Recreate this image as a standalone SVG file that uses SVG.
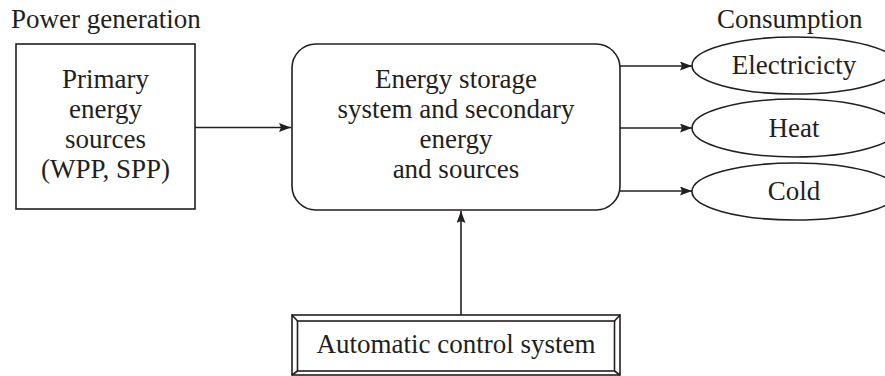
<svg xmlns="http://www.w3.org/2000/svg" width="885" height="376" viewBox="0 0 885 376">
<style>
text{font-family:"Liberation Serif","Times New Roman",serif;font-size:27px;fill:#231f20;text-anchor:middle}
.lbl{text-anchor:start}
.shape{fill:none;stroke:#231f20;stroke-width:1.6}
.con{fill:none;stroke:#231f20;stroke-width:1.6}
</style>
<defs>
<marker id="arr" viewBox="0 0 12 9" refX="12" refY="4.5" markerWidth="12" markerHeight="9" markerUnits="userSpaceOnUse" orient="auto">
<path d="M0,0 L12,4.5 L0,9 L2,4.5 Z" fill="#231f20"/>
</marker>
</defs>
<text class="lbl" x="11" y="28">Power generation</text>
<text class="lbl" x="717" y="28">Consumption</text>
<g id="primary">
<rect class="shape" x="16" y="44" width="179" height="165"/>
<text x="105.5" y="88">Primary</text>
<text x="105.5" y="118">energy</text>
<text x="105.5" y="148">sources</text>
<text x="105.5" y="178">(WPP, SPP)</text>
</g>
<g id="storage">
<rect class="shape" x="292" y="44" width="328" height="166" rx="24" ry="24"/>
<text x="456" y="88">Energy storage</text>
<text x="456" y="118">system and secondary</text>
<text x="456" y="148">energy</text>
<text x="456" y="178">and sources</text>
</g>
<g id="electricity">
<ellipse class="shape" cx="795" cy="65.5" rx="103" ry="28.5"/>
<text x="794" y="74">Electricicty</text>
</g>
<g id="heat">
<ellipse class="shape" cx="795" cy="128" rx="103" ry="29"/>
<text x="794" y="137">Heat</text>
</g>
<g id="cold">
<ellipse class="shape" cx="795" cy="191.5" rx="103" ry="28.5"/>
<text x="794" y="200">Cold</text>
</g>
<g id="control">
<rect class="shape" x="292" y="315" width="328" height="60"/>
<rect class="shape" x="297.5" y="321" width="317" height="50"/>
<path class="shape" d="M292,315 L297.5,321 M620,315 L614.5,321 M292,375 L297.5,371 M620,375 L614.5,371"/>
<text x="456" y="353">Automatic control system</text>
</g>
<g id="connectors">
<line class="con" x1="195" y1="127.5" x2="291" y2="127.5" marker-end="url(#arr)"/>
<line class="con" x1="620" y1="66" x2="692" y2="66" marker-end="url(#arr)"/>
<line class="con" x1="620" y1="128" x2="692" y2="128" marker-end="url(#arr)"/>
<line class="con" x1="620" y1="191" x2="692" y2="191" marker-end="url(#arr)"/>
<line class="con" x1="461" y1="315" x2="461" y2="211" marker-end="url(#arr)"/>
</g>
</svg>
